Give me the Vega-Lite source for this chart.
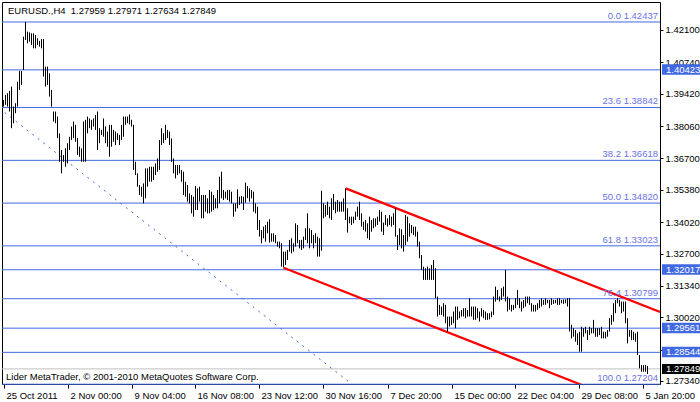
{
"$schema": "https://vega.github.io/schema/vega-lite/v6.json",
"width": 658, "height": 382,
"autosize": "none",
"padding": {"left": 2, "top": 2, "right": 40, "bottom": 18},
"background": "white",
"config": {
  "view": {"stroke": "black", "strokeWidth": 1},
  "axis": {"labelFont": "Liberation Sans", "labelFontSize": 9.5, "labelColor": "black", "tickColor": "black", "domain": false, "grid": false, "title": null, "labelOverlap": false, "labelBound": false, "labelFlush": false},
  "text": {"font": "Liberation Sans", "fontSize": 9.5}
},
"datasets": {
"bars": [
{"bar":0,"high":1.3916,"low":1.3888},{"bar":1,"high":1.3937,"low":1.3895},{"bar":2,"high":1.3944,"low":1.3888},{"bar":3,"high":1.3954,"low":1.3867},{"bar":4,"high":1.3972,"low":1.3797},{"bar":5,"high":1.3888,"low":1.3818},{"bar":6,"high":1.3902,"low":1.386},{"bar":7,"high":1.3993,"low":1.3888},{"bar":8,"high":1.4038,"low":1.3958},{"bar":9,"high":1.4038,"low":1.3979},
{"bar":10,"high":1.4182,"low":1.4042},{"bar":11,"high":1.42437,"low":1.4168},{"bar":12,"high":1.4203,"low":1.4154},{"bar":13,"high":1.42,"low":1.4161},{"bar":14,"high":1.4196,"low":1.4147},{"bar":15,"high":1.4196,"low":1.4133},{"bar":16,"high":1.4189,"low":1.4133},{"bar":17,"high":1.4175,"low":1.4147},{"bar":18,"high":1.4164,"low":1.414},{"bar":19,"high":1.4172,"low":1.4133},
{"bar":20,"high":1.4172,"low":1.4014},{"bar":21,"high":1.4056,"low":1.3972},{"bar":22,"high":1.4056,"low":1.3979},{"bar":23,"high":1.4028,"low":1.393},{"bar":24,"high":1.3958,"low":1.3888},{"bar":25,"high":1.3867,"low":1.3825},{"bar":26,"high":1.3867,"low":1.3818},{"bar":27,"high":1.3846,"low":1.3755},{"bar":28,"high":1.3775,"low":1.3656},{"bar":29,"high":1.3705,"low":1.3607},
{"bar":30,"high":1.3684,"low":1.3656},{"bar":31,"high":1.3712,"low":1.3635},{"bar":32,"high":1.3734,"low":1.3649},{"bar":33,"high":1.3761,"low":1.3705},{"bar":34,"high":1.3804,"low":1.3747},{"bar":35,"high":1.3825,"low":1.3755},{"bar":36,"high":1.3811,"low":1.374},{"bar":37,"high":1.3755,"low":1.3684},{"bar":38,"high":1.3719,"low":1.3677},{"bar":39,"high":1.3712,"low":1.3656},
{"bar":40,"high":1.3825,"low":1.3656},{"bar":41,"high":1.3832,"low":1.3656},{"bar":42,"high":1.3846,"low":1.3776},{"bar":43,"high":1.3838,"low":1.3797},{"bar":44,"high":1.3832,"low":1.379},{"bar":45,"high":1.3838,"low":1.3804},{"bar":46,"high":1.3853,"low":1.379},{"bar":47,"high":1.3867,"low":1.3705},{"bar":48,"high":1.3797,"low":1.3734},{"bar":49,"high":1.379,"low":1.3768},
{"bar":50,"high":1.3838,"low":1.3761},{"bar":51,"high":1.3804,"low":1.3734},{"bar":52,"high":1.3783,"low":1.3719},{"bar":53,"high":1.3811,"low":1.3677},{"bar":54,"high":1.3811,"low":1.3719},{"bar":55,"high":1.379,"low":1.374},{"bar":56,"high":1.3783,"low":1.3726},{"bar":57,"high":1.3776,"low":1.3747},{"bar":58,"high":1.3769,"low":1.3726},{"bar":59,"high":1.3811,"low":1.3747},
{"bar":60,"high":1.3846,"low":1.3761},{"bar":61,"high":1.3846,"low":1.3811},{"bar":62,"high":1.3846,"low":1.3818},{"bar":63,"high":1.3855,"low":1.3813},{"bar":64,"high":1.3832,"low":1.3804},{"bar":65,"high":1.3811,"low":1.3621},{"bar":66,"high":1.3656,"low":1.36},{"bar":67,"high":1.3607,"low":1.3551},{"bar":68,"high":1.3558,"low":1.3516},{"bar":69,"high":1.3551,"low":1.3509},
{"bar":70,"high":1.3565,"low":1.3481},{"bar":71,"high":1.3628,"low":1.3502},{"bar":72,"high":1.3628,"low":1.3551},{"bar":73,"high":1.3635,"low":1.3572},{"bar":74,"high":1.3635,"low":1.3572},{"bar":75,"high":1.3635,"low":1.3579},{"bar":76,"high":1.3649,"low":1.36},{"bar":77,"high":1.367,"low":1.3614},{"bar":78,"high":1.3747,"low":1.3621},{"bar":79,"high":1.3797,"low":1.3726},
{"bar":80,"high":1.3776,"low":1.3734},{"bar":81,"high":1.3811,"low":1.3747},{"bar":82,"high":1.379,"low":1.3755},{"bar":83,"high":1.3783,"low":1.3726},{"bar":84,"high":1.3754,"low":1.3656},{"bar":85,"high":1.367,"low":1.3607},{"bar":86,"high":1.3642,"low":1.3586},{"bar":87,"high":1.3642,"low":1.36},{"bar":88,"high":1.3642,"low":1.3607},{"bar":89,"high":1.3621,"low":1.3572},
{"bar":90,"high":1.3614,"low":1.3516},{"bar":91,"high":1.3572,"low":1.3509},{"bar":92,"high":1.3558,"low":1.3488},{"bar":93,"high":1.3523,"low":1.3481},{"bar":94,"high":1.3516,"low":1.3439},{"bar":95,"high":1.3509,"low":1.3425},{"bar":96,"high":1.3554,"low":1.3453},{"bar":97,"high":1.3544,"low":1.3453},{"bar":98,"high":1.3551,"low":1.3488},{"bar":99,"high":1.3516,"low":1.3418},
{"bar":100,"high":1.3516,"low":1.3418},{"bar":101,"high":1.3516,"low":1.3446},{"bar":102,"high":1.3502,"low":1.3439},{"bar":103,"high":1.3537,"low":1.3439},{"bar":104,"high":1.353,"low":1.3446},{"bar":105,"high":1.3516,"low":1.3453},{"bar":106,"high":1.3502,"low":1.346},{"bar":107,"high":1.3537,"low":1.346},{"bar":108,"high":1.3593,"low":1.3481},{"bar":109,"high":1.3614,"low":1.3502},
{"bar":110,"high":1.3537,"low":1.3495},{"bar":111,"high":1.353,"low":1.3502},{"bar":112,"high":1.3537,"low":1.3495},{"bar":113,"high":1.3537,"low":1.3488},{"bar":114,"high":1.353,"low":1.3481},{"bar":115,"high":1.3481,"low":1.3425},{"bar":116,"high":1.3481,"low":1.3446},{"bar":117,"high":1.354,"low":1.346},{"bar":118,"high":1.3509,"low":1.3474},{"bar":119,"high":1.3512,"low":1.3481},
{"bar":120,"high":1.3509,"low":1.3453},{"bar":121,"high":1.3568,"low":1.3484},{"bar":122,"high":1.3554,"low":1.3502},{"bar":123,"high":1.3544,"low":1.3488},{"bar":124,"high":1.3537,"low":1.3502},{"bar":125,"high":1.353,"low":1.3446},{"bar":126,"high":1.3481,"low":1.3439},{"bar":127,"high":1.3467,"low":1.3369},{"bar":128,"high":1.3411,"low":1.3341},{"bar":129,"high":1.3369,"low":1.3313},
{"bar":130,"high":1.3383,"low":1.3334},{"bar":131,"high":1.339,"low":1.332},{"bar":132,"high":1.3404,"low":1.3355},{"bar":133,"high":1.3414,"low":1.3316},{"bar":134,"high":1.3355,"low":1.332},{"bar":135,"high":1.3355,"low":1.332},{"bar":136,"high":1.3348,"low":1.3313},{"bar":137,"high":1.332,"low":1.3299},{"bar":138,"high":1.332,"low":1.3292},{"bar":139,"high":1.3313,"low":1.3215},
{"bar":140,"high":1.3278,"low":1.3212},{"bar":141,"high":1.3278,"low":1.3222},{"bar":142,"high":1.3285,"low":1.3243},{"bar":143,"high":1.3327,"low":1.3278},{"bar":144,"high":1.3334,"low":1.3271},{"bar":145,"high":1.3313,"low":1.3278},{"bar":146,"high":1.3397,"low":1.3299},{"bar":147,"high":1.339,"low":1.3313},{"bar":148,"high":1.3327,"low":1.3292},{"bar":149,"high":1.3327,"low":1.3285},
{"bar":150,"high":1.3341,"low":1.3292},{"bar":151,"high":1.3376,"low":1.3327},{"bar":152,"high":1.3439,"low":1.3313},{"bar":153,"high":1.3376,"low":1.3292},{"bar":154,"high":1.3369,"low":1.3313},{"bar":155,"high":1.3348,"low":1.3292},{"bar":156,"high":1.3355,"low":1.3313},{"bar":157,"high":1.3341,"low":1.3257},{"bar":158,"high":1.3334,"low":1.3257},{"bar":159,"high":1.3534,"low":1.3282},
{"bar":160,"high":1.3481,"low":1.3418},{"bar":161,"high":1.3474,"low":1.3425},{"bar":162,"high":1.3488,"low":1.3432},{"bar":163,"high":1.3467,"low":1.3418},{"bar":164,"high":1.3502,"low":1.3411},{"bar":165,"high":1.352,"low":1.3453},{"bar":166,"high":1.3488,"low":1.3439},{"bar":167,"high":1.3495,"low":1.3446},{"bar":168,"high":1.3488,"low":1.3446},{"bar":169,"high":1.3488,"low":1.3446},
{"bar":170,"high":1.3502,"low":1.3446},{"bar":171,"high":1.3544,"low":1.3411},{"bar":172,"high":1.346,"low":1.3358},{"bar":173,"high":1.3425,"low":1.3397},{"bar":174,"high":1.3425,"low":1.339},{"bar":175,"high":1.3425,"low":1.3397},{"bar":176,"high":1.3446,"low":1.3411},{"bar":177,"high":1.3467,"low":1.3425},{"bar":178,"high":1.3488,"low":1.3411},{"bar":179,"high":1.3439,"low":1.3383},
{"bar":180,"high":1.3404,"low":1.3369},{"bar":181,"high":1.3411,"low":1.3362},{"bar":182,"high":1.3397,"low":1.3334},{"bar":183,"high":1.3425,"low":1.3327},{"bar":184,"high":1.3411,"low":1.3362},{"bar":185,"high":1.3418,"low":1.3376},{"bar":186,"high":1.3418,"low":1.3383},{"bar":187,"high":1.3425,"low":1.339},{"bar":188,"high":1.3453,"low":1.3404},{"bar":189,"high":1.3446,"low":1.3362},
{"bar":190,"high":1.34,"low":1.3348},{"bar":191,"high":1.3432,"low":1.339},{"bar":192,"high":1.3418,"low":1.3383},{"bar":193,"high":1.3432,"low":1.339},{"bar":194,"high":1.3425,"low":1.3383},{"bar":195,"high":1.3439,"low":1.339},{"bar":196,"high":1.346,"low":1.3341},{"bar":197,"high":1.3348,"low":1.3285},{"bar":198,"high":1.3376,"low":1.3306},{"bar":199,"high":1.3372,"low":1.3292},
{"bar":200,"high":1.3348,"low":1.3278},{"bar":201,"high":1.3432,"low":1.3306},{"bar":202,"high":1.3425,"low":1.332},{"bar":203,"high":1.3397,"low":1.3341},{"bar":204,"high":1.339,"low":1.3355},{"bar":205,"high":1.3383,"low":1.3348},{"bar":206,"high":1.3383,"low":1.3341},{"bar":207,"high":1.3362,"low":1.3299},{"bar":208,"high":1.332,"low":1.325},{"bar":209,"high":1.3264,"low":1.3201},
{"bar":210,"high":1.3215,"low":1.3159},{"bar":211,"high":1.3208,"low":1.3159},{"bar":212,"high":1.3215,"low":1.3159},{"bar":213,"high":1.3208,"low":1.3159},{"bar":214,"high":1.3222,"low":1.3159},{"bar":215,"high":1.3243,"low":1.3159},{"bar":216,"high":1.3208,"low":1.3082},{"bar":217,"high":1.3089,"low":1.3005},{"bar":218,"high":1.3054,"low":1.3012},{"bar":219,"high":1.3047,"low":1.3012},
{"bar":220,"high":1.3061,"low":1.3005},{"bar":221,"high":1.3054,"low":1.2977},{"bar":222,"high":1.3005,"low":1.2942},{"bar":223,"high":1.3005,"low":1.2963},{"bar":224,"high":1.3005,"low":1.297},{"bar":225,"high":1.3026,"low":1.2977},{"bar":226,"high":1.3047,"low":1.2956},{"bar":227,"high":1.3047,"low":1.2991},{"bar":228,"high":1.3026,"low":1.2998},{"bar":229,"high":1.3033,"low":1.3005},
{"bar":230,"high":1.304,"low":1.3005},{"bar":231,"high":1.304,"low":1.2998},{"bar":232,"high":1.3033,"low":1.3005},{"bar":233,"high":1.3082,"low":1.3005},{"bar":234,"high":1.3047,"low":1.3005},{"bar":235,"high":1.3047,"low":1.2991},{"bar":236,"high":1.3047,"low":1.2991},{"bar":237,"high":1.304,"low":1.2998},{"bar":238,"high":1.3026,"low":1.2984},{"bar":239,"high":1.304,"low":1.3005},
{"bar":240,"high":1.3033,"low":1.2998},{"bar":241,"high":1.3026,"low":1.2991},{"bar":242,"high":1.3019,"low":1.2991},{"bar":243,"high":1.3019,"low":1.2993},{"bar":244,"high":1.3026,"low":1.3002},{"bar":245,"high":1.3089,"low":1.3012},{"bar":246,"high":1.3131,"low":1.3068},{"bar":247,"high":1.3117,"low":1.3075},{"bar":248,"high":1.3089,"low":1.3068},{"bar":249,"high":1.3124,"low":1.3075},
{"bar":250,"high":1.3131,"low":1.3089},{"bar":251,"high":1.3201,"low":1.3068},{"bar":252,"high":1.3089,"low":1.3026},{"bar":253,"high":1.3082,"low":1.3033},{"bar":254,"high":1.3054,"low":1.3026},{"bar":255,"high":1.3054,"low":1.3033},{"bar":256,"high":1.3082,"low":1.304},{"bar":257,"high":1.3117,"low":1.3054},{"bar":258,"high":1.3082,"low":1.304},{"bar":259,"high":1.3068,"low":1.3026},
{"bar":260,"high":1.3075,"low":1.304},{"bar":261,"high":1.3089,"low":1.3047},{"bar":262,"high":1.3089,"low":1.3061},{"bar":263,"high":1.3089,"low":1.3054},{"bar":264,"high":1.3061,"low":1.3026},{"bar":265,"high":1.3054,"low":1.3026},{"bar":266,"high":1.3054,"low":1.3026},{"bar":267,"high":1.3061,"low":1.3033},{"bar":268,"high":1.3075,"low":1.304},{"bar":269,"high":1.3082,"low":1.3047},
{"bar":270,"high":1.3075,"low":1.3054},{"bar":271,"high":1.3082,"low":1.3054},{"bar":272,"high":1.3075,"low":1.3061},{"bar":273,"high":1.3075,"low":1.304},{"bar":274,"high":1.3082,"low":1.3054},{"bar":275,"high":1.3075,"low":1.3058},{"bar":276,"high":1.3075,"low":1.3061},{"bar":277,"high":1.3082,"low":1.3054},{"bar":278,"high":1.3082,"low":1.3054},{"bar":279,"high":1.3075,"low":1.3061},
{"bar":280,"high":1.3077,"low":1.3058},{"bar":281,"high":1.3077,"low":1.3061},{"bar":282,"high":1.3082,"low":1.3047},{"bar":283,"high":1.3082,"low":1.2942},{"bar":284,"high":1.297,"low":1.2913},{"bar":285,"high":1.2956,"low":1.292},{"bar":286,"high":1.2948,"low":1.2899},{"bar":287,"high":1.2934,"low":1.2885},{"bar":288,"high":1.2941,"low":1.2857},{"bar":289,"high":1.2962,"low":1.2857},
{"bar":290,"high":1.2956,"low":1.292},{"bar":291,"high":1.2962,"low":1.2934},{"bar":292,"high":1.2948,"low":1.2906},{"bar":293,"high":1.2962,"low":1.2927},{"bar":294,"high":1.2956,"low":1.2934},{"bar":295,"high":1.2991,"low":1.2934},{"bar":296,"high":1.2956,"low":1.292},{"bar":297,"high":1.2956,"low":1.292},{"bar":298,"high":1.2956,"low":1.2927},{"bar":299,"high":1.2962,"low":1.2913},
{"bar":300,"high":1.2941,"low":1.2913},{"bar":301,"high":1.2941,"low":1.2913},{"bar":302,"high":1.2948,"low":1.292},{"bar":303,"high":1.2998,"low":1.2941},{"bar":304,"high":1.3012,"low":1.297},{"bar":305,"high":1.3061,"low":1.2984},{"bar":306,"high":1.3075,"low":1.3019},{"bar":307,"high":1.3082,"low":1.3061},{"bar":308,"high":1.3075,"low":1.3047},{"bar":309,"high":1.3068,"low":1.3019},
{"bar":310,"high":1.3068,"low":1.3026},{"bar":311,"high":1.3068,"low":1.2977},{"bar":312,"high":1.2998,"low":1.2892},{"bar":313,"high":1.2948,"low":1.292},{"bar":314,"high":1.2948,"low":1.2906},{"bar":315,"high":1.2941,"low":1.2906},{"bar":316,"high":1.2934,"low":1.2899},{"bar":317,"high":1.2941,"low":1.2843},{"bar":318,"high":1.2843,"low":1.2787},{"bar":319,"high":1.2801,"low":1.2773},
{"bar":320,"high":1.2801,"low":1.2773},{"bar":321,"high":1.2801,"low":1.2773},{"bar":322,"high":1.27971,"low":1.27634}
],
"fib": [
{"label":"0.0 1.42437","price":1.42437},{"label":"23.6 1.38842","price":1.38842},{"label":"38.2 1.36618","price":1.36618},{"label":"50.0 1.34820","price":1.3482},{"label":"61.8 1.33023","price":1.33023},{"label":"76.4 1.30799","price":1.30799},{"label":"100.0 1.27204","price":1.27204}
],
"levels": [{"price":1.40423},{"price":1.32017},{"price":1.29561},{"price":1.28544}],
"current": [{"price":1.27849}],
"fibline": [{"bar":-57.3,"price":1.42437},{"bar":174.2,"price":1.27204}],
"channel": [
{"line":"upper","bar":171.1,"price":1.3544},{"line":"upper","bar":328.25,"price":1.3024},
{"line":"lower","bar":140,"price":1.321},{"line":"lower","bar":328.25,"price":1.2588}
]
},
"layer": [
{
  "data": {"name": "fib"},
  "mark": {"type": "rule", "color": "#4169E1", "strokeWidth": 1},
  "encoding": {"y": {"field": "price", "type": "quantitative", "title": null,
    "scale": {"domain": [1.27213, 1.43277], "nice": false, "zero": false},
    "axis": {"orient": "right", "values": [1.2734, 1.2866, 1.3002, 1.3134, 1.327, 1.3402, 1.3538, 1.367, 1.3806, 1.3942, 1.4074, 1.421],
        "tickCount": 30, "format": ".5f", "tickSize": 3, "labelPadding": 2, "labelAlign": "left", "labelBaseline": "middle", "labelOverlap": false, "labelFlush": false, "labelBound": false}}}
},
{
  "data": {"name": "levels"},
  "mark": {"type": "rule", "color": "#4169E1", "strokeWidth": 1},
  "encoding": {"y": {"field": "price", "type": "quantitative", "title": null}}
},
{
  "data": {"name": "current"},
  "mark": {"type": "rule", "color": "#C0C0C0", "strokeWidth": 1},
  "encoding": {"y": {"field": "price", "type": "quantitative", "title": null}}
},
{
  "data": {"name": "fibline"},
  "mark": {"type": "line", "color": "#4169E1", "strokeWidth": 1, "strokeDash": [2, 5], "clip": true},
  "encoding": {
    "x": {"field": "bar", "type": "quantitative", "title": null},
    "y": {"field": "price", "type": "quantitative", "title": null}
  }
},
{
  "data": {"name": "channel"},
  "mark": {"type": "line", "color": "#FF0000", "strokeWidth": 2.2, "clip": true},
  "encoding": {
    "x": {"field": "bar", "type": "quantitative", "title": null},
    "y": {"field": "price", "type": "quantitative", "title": null},
    "detail": {"field": "line"}
  }
},
{
  "data": {"name": "bars"},
  "mark": {"type": "rule", "color": "black", "strokeWidth": 1},
  "encoding": {
    "x": {"field": "bar", "type": "quantitative", "title": null,
      "scale": {"domain": [-0.75, 328.25], "nice": false, "zero": false},
      "axis": {"values": [0, 32, 64, 95.5, 127.5, 159.5, 192, 224, 255.5, 287.5, 319.5], "tickCount": 30,
        "labelExpr": "['25 Oct 2011','2 Nov 00:00','9 Nov 04:00','16 Nov 08:00','23 Nov 12:00','30 Nov 16:00','7 Dec 20:00','15 Dec 00:00','22 Dec 04:00','29 Dec 08:00','5 Jan 20:00'][round(datum.value/32)]",
        "labelAlign": "left", "labelBaseline": "top", "labelPadding": 2, "labelOffset": 2.5, "tickSize": 4, "labelOverlap": false, "labelFlush": false, "labelBound": false}},
    "y": {"field": "low", "type": "quantitative", "title": null},
    "y2": {"field": "high"}
  }
},
{
  "data": {"name": "fib"},
  "mark": {"type": "text", "align": "right", "baseline": "alphabetic", "dy": -3, "color": "#6A72E6"},
  "encoding": {
    "x": {"datum": 327.25, "type": "quantitative"},
    "y": {"field": "price", "type": "quantitative", "title": null},
    "text": {"field": "label"}
  }
},
{
  "data": {"name": "levels"},
  "mark": {"type": "rect", "color": "#4169E1", "yOffset": -5.5, "y2Offset": 5},
  "encoding": {
    "x": {"datum": 329.25, "type": "quantitative"},
    "x2": {"datum": 349},
    "y": {"field": "price", "type": "quantitative", "title": null},
    "y2": {"field": "price"}
  }
},
{
  "data": {"name": "levels"},
  "mark": {"type": "text", "align": "left", "baseline": "middle", "color": "white"},
  "encoding": {
    "x": {"datum": 331.25, "type": "quantitative"},
    "y": {"field": "price", "type": "quantitative", "title": null},
    "text": {"field": "price", "format": ".5f"}
  }
},
{
  "data": {"name": "current"},
  "mark": {"type": "rect", "color": "black", "yOffset": -5, "y2Offset": 5},
  "encoding": {
    "x": {"datum": 329.25, "type": "quantitative"},
    "x2": {"datum": 349},
    "y": {"field": "price", "type": "quantitative", "title": null},
    "y2": {"field": "price"}
  }
},
{
  "data": {"name": "current"},
  "mark": {"type": "text", "align": "left", "baseline": "middle", "color": "white"},
  "encoding": {
    "x": {"datum": 331.25, "type": "quantitative"},
    "y": {"field": "price", "type": "quantitative", "title": null},
    "text": {"field": "price", "format": ".5f"}
  }
},
{
  "data": {"values": [{"t": "EURUSD.,H4\u00a0\u00a01.27959 1.27971 1.27634 1.27849"}]},
  "mark": {"type": "text", "align": "left", "baseline": "middle", "color": "black"},
  "encoding": {
    "x": {"datum": 2.25, "type": "quantitative"},
    "y": {"datum": 1.42899, "type": "quantitative"},
    "text": {"field": "t"}
  }
},
{
  "data": {"values": [{"t": "Lider MetaTrader, © 2001-2010 MetaQuotes Software Corp."}]},
  "mark": {"type": "text", "align": "left", "baseline": "middle", "color": "black"},
  "encoding": {
    "x": {"datum": 1.25, "type": "quantitative"},
    "y": {"datum": 1.2752, "type": "quantitative"},
    "text": {"field": "t"}
  }
}
]
}
